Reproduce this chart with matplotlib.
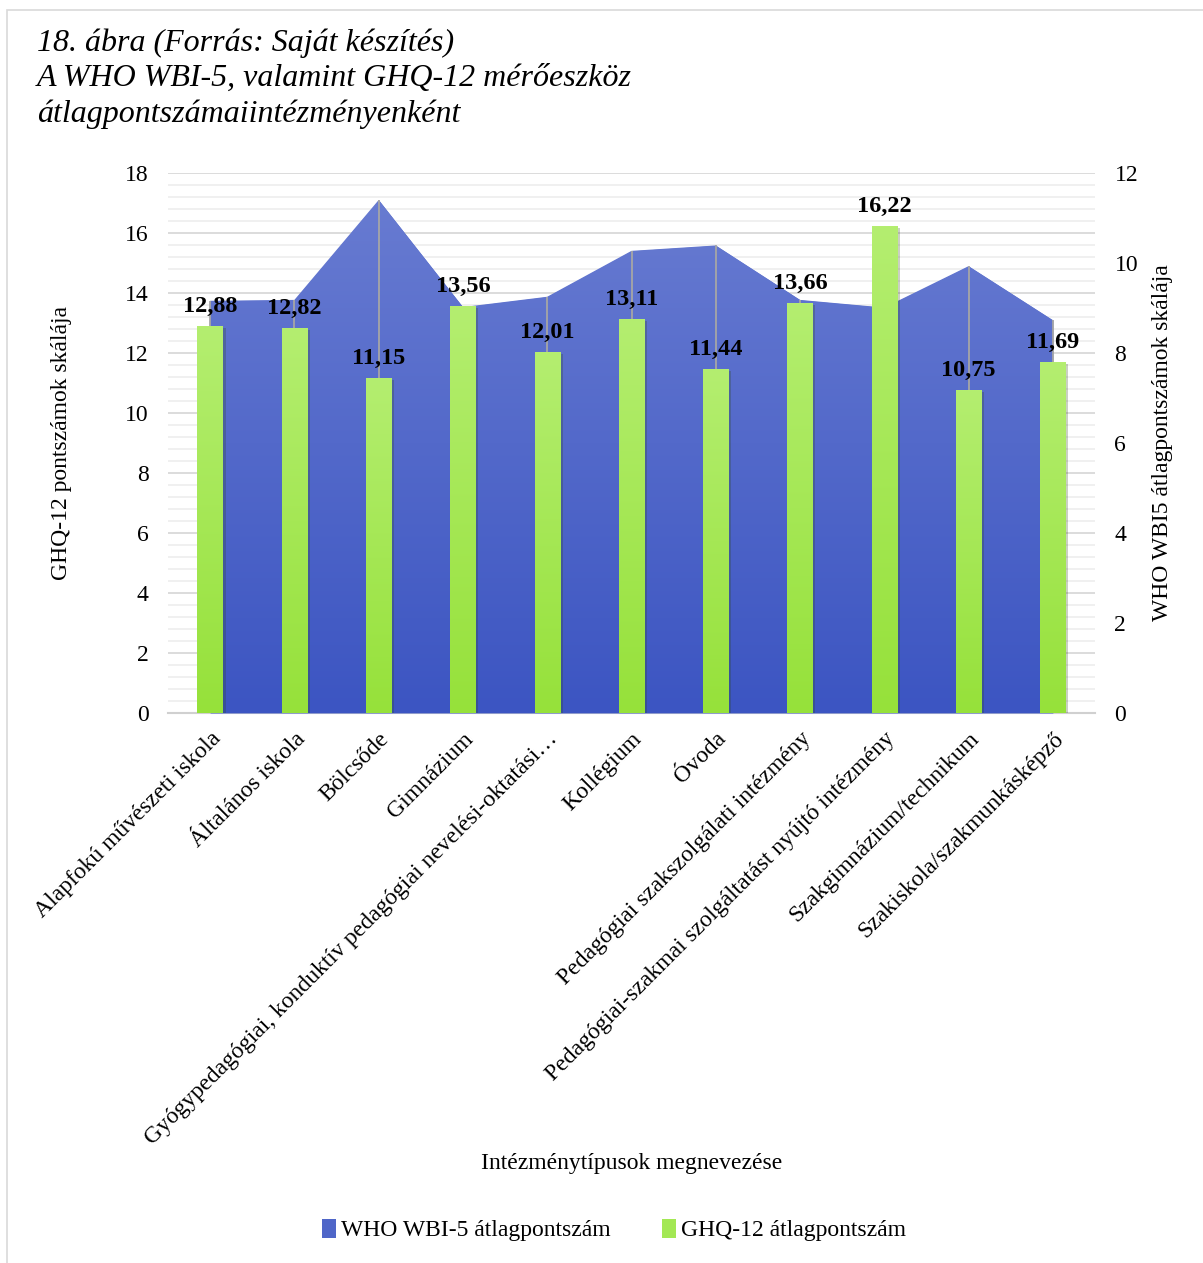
import numpy as np
import matplotlib
matplotlib.use('Agg')
import matplotlib.pyplot as plt
from matplotlib.colors import LinearSegmentedColormap
from matplotlib.patches import Patch, Rectangle
from matplotlib.ticker import MultipleLocator
import matplotlib.patheffects as pe

# adatok
categories = [
    'Alapfokú művészeti iskola',
    'Általános iskola',
    'Bölcsőde',
    'Gimnázium',
    'Gyógypedagógiai, konduktív pedagógiai nevelési-oktatási…',
    'Kollégium',
    'Óvoda',
    'Pedagógiai szakszolgálati intézmény',
    'Pedagógiai-szakmai szolgáltatást nyújtó intézmény',
    'Szakgimnázium/technikum',
    'Szakiskola/szakmunkásképző',
]
who_values = [9.16, 9.18, 11.40, 9.02, 9.25, 10.27, 10.39, 9.18, 9.01, 9.93, 8.73]
ghq_values = [12.88, 12.82, 11.15, 13.56, 12.01, 13.11, 11.44, 13.66, 16.22, 10.75, 11.69]

plt.rcParams['font.family'] = ['Liberation Serif', 'DejaVu Serif']

W, H = 1203, 1263
fig = plt.figure(figsize=(W / 100, H / 100), dpi=100, facecolor='white')

# keret
fig.patches.append(Rectangle((7 / W, -0.1), 1.2, 1 - 10 / H + 0.1, transform=fig.transFigure,
                             fill=False, edgecolor='#D9D9D9', lw=1.2))

left, right, top, bottom = 168 / W, 1095 / W, 1 - 173 / H, 1 - 713 / H
ax1 = fig.add_axes([left, bottom, right - left, top - bottom])
ax2 = ax1.twinx()
ax3 = ax1.twinx()

x = np.arange(len(categories))

# rács (háttér)
ax1.set_ylim(0, 18)
ax1.set_yticks(np.arange(0, 19, 2))
ax1.yaxis.set_minor_locator(MultipleLocator(0.4))
ax1.grid(axis='y', which='major', color='#D9D9D9', lw=1.3)
ax1.grid(axis='y', which='minor', color='#EFEFEF', lw=1.3)
ax1.set_axisbelow(True)
for s in ['top', 'left', 'right']:
    ax1.spines[s].set_visible(False)
ax1.spines['bottom'].set_color('#D0D0D0')
ax1.spines['bottom'].set_linewidth(1.5)
ax1.tick_params(axis='y', which='both', length=0, labelsize=17, pad=14)
ax1.tick_params(axis='x', length=0, labelsize=17, pad=11)
ax1.set_xticks(x)
ax1.set_xticklabels(categories, rotation=45, ha='right', va='top', rotation_mode='anchor')
ax1.set_ylabel('GHQ-12 pontszámok skálája', fontsize=17, labelpad=38)

# WHO terület (másodlagos tengely)
ax2.set_ylim(0, 12)
area = ax2.fill_between(x, who_values, 0, color='#5068C8', lw=0)
blue_cmap = LinearSegmentedColormap.from_list('kek', ['#3C55C2', '#6A7DD2'])
grad = np.linspace(0, 1, 256).reshape(-1, 1)
im = ax2.imshow(grad, cmap=blue_cmap, origin='lower', aspect='auto',
                extent=[-0.5, len(categories) - 0.5, 0, 12], zorder=2)
im.set_clip_path(area.get_paths()[0], transform=ax2.transData)
ax2.vlines(x, 0, who_values, color='#A6A6A6', lw=1.3, zorder=3)
ax2.set_yticks(np.arange(0, 13, 2))
ax2.tick_params(axis='y', length=0, labelsize=17, pad=14)
for s in ax2.spines.values():
    s.set_visible(False)
ax2.set_ylabel('WHO WBI5 átlagpontszámok skálája', fontsize=17, labelpad=10)

# GHQ oszlopok
ax3.set_ylim(0, 18)
bars = ax3.bar(x, ghq_values, width=0.3, color='#9AE23E', lw=0, zorder=2,
               path_effects=[pe.SimplePatchShadow(offset=(2, -1), alpha=0.25), pe.Normal()])
green_cmap = LinearSegmentedColormap.from_list('zold', ['#96E13A', '#B4EE70'])
for b in bars:
    bx, bw, bh = b.get_x(), b.get_width(), b.get_height()
    ax3.imshow(grad, cmap=green_cmap, origin='lower', aspect='auto',
               extent=[bx, bx + bw, 0, bh], zorder=3)
for xi, v in zip(x, ghq_values):
    ax3.annotate(f'{v:.2f}'.replace('.', ','), (xi, v), xytext=(0, 7), textcoords='offset points',
                 ha='center', va='bottom', fontsize=17.5, fontweight='bold')
ax3.set_yticks([])
for s in ax3.spines.values():
    s.set_visible(False)
ax1.set_xlim(-0.5, len(categories) - 0.5)
ax3.set_ylim(0, 18)
ax2.set_ylim(0, 12)

# címek
fig.text(37 / W, 1 - 28 / H,
         '18. ábra (Forrás: Saját készítés)\nA WHO WBI-5, valamint GHQ-12 mérőeszköz\nátlagpontszámaiintézményenként',
         fontsize=23, style='italic', ha='left', va='top', linespacing=1.3)
fig.text((168 + 1095) / 2 / W, 1 - 1163 / H, 'Intézménytípusok megnevezése',
         fontsize=17, ha='center', va='center')

handles = [Patch(facecolor='#4F66C8', label='WHO WBI-5 átlagpontszám'),
           Patch(facecolor='#A3E854', label='GHQ-12 átlagpontszám')]
fig.legend(handles=handles, loc='center', bbox_to_anchor=(614 / W, 1 - 1230 / H), ncol=2,
           frameon=False, fontsize=17, handlelength=0.6, handleheight=0.9,
           handletextpad=0.2, columnspacing=2.2)

fig.savefig('out.png', dpi=100, facecolor='white')
